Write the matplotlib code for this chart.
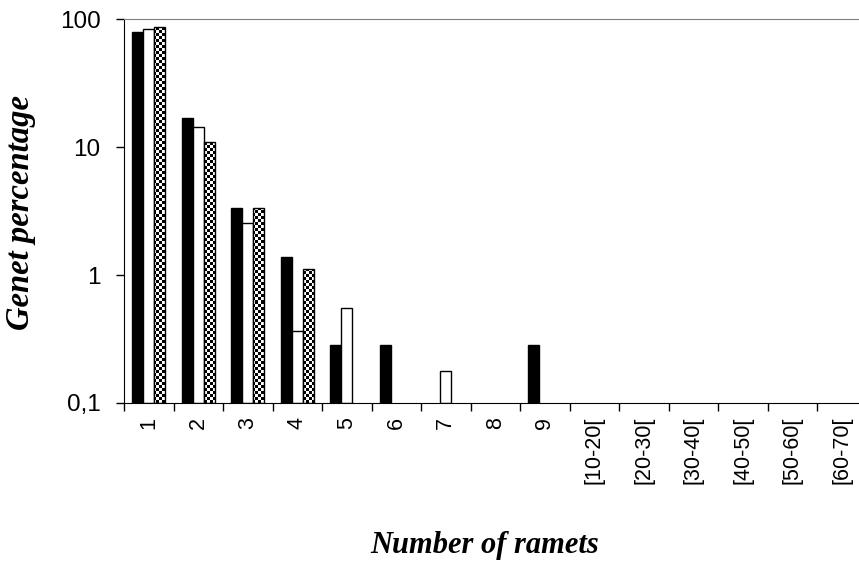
import numpy as np
import matplotlib
matplotlib.use("Agg")
import matplotlib.pyplot as plt
from matplotlib.transforms import IdentityTransform
from matplotlib.ticker import FixedLocator, NullFormatter

## Donnees
categories = ['1', '2', '3', '4', '5', '6', '7', '8', '9',
              '[10-20[', '[20-30[', '[30-40[', '[40-50[', '[50-60[', '[60-70[']
noir = [79, 16.9, 3.34, 1.38, 0.284, 0.284, 0, 0, 0.284, 0, 0, 0, 0, 0, 0]
blanc = [83.5, 14.3, 2.55, 0.365, 0.552, 0, 0.178, 0, 0, 0, 0, 0, 0, 0, 0]
damier = [86.6, 10.9, 3.34, 1.11, 0, 0, 0, 0, 0, 0, 0, 0, 0, 0, 0]
yticks = [0.1, 1, 10, 100]
ylabels = ['0,1', '1', '10', '100']
base = 0.1  # bas de l'axe log

W, H = 859, 565
fig = plt.figure(figsize=(W/100, H/100), dpi=100)
ax = fig.add_axes([124/W, 1-403/H, 1-124/W, 384/H])
ax.set_yscale('log')

x = np.arange(len(categories))
larg = 0.222


def non_nuls(vals, dx):
    v = np.array(vals, dtype=float)
    m = v > 0
    return x[m] + dx, v[m]


xn, vn = non_nuls(noir, -larg)
ax.bar(xn, vn - base, bottom=base, width=larg, color='black', edgecolor='black', linewidth=1, zorder=2)
xb, vb = non_nuls(blanc, 0)
ax.bar(xb, vb - base, bottom=base, width=larg, color='white', edgecolor='black', linewidth=1, zorder=2)

# damier : image en pixels coupee par chaque barre
xd, vd = non_nuls(damier, larg)
barres = ax.bar(xd, vd - base, bottom=base, width=larg, facecolor='none', edgecolor='black', linewidth=1, zorder=3)
ii, jj = np.indices((H, W))
motif = ((ii // 3 + jj // 3) % 2).astype(float)
for b in barres:
    im = ax.imshow(motif, cmap='gray', vmin=0, vmax=1, origin='lower',
                   extent=(0, W, 0, H), transform=IdentityTransform(),
                   interpolation='nearest', zorder=2.5, aspect='auto')
    im.set_clip_path(b)

ax.set_xlim(-0.5, -0.5 + 735/49.5)
ax.set_ylim(0.1, 100)

ax.yaxis.set_major_locator(FixedLocator(yticks))
ax.set_yticklabels(ylabels)
ax.yaxis.set_minor_locator(FixedLocator([]))
ax.set_xticks(x)
ax.set_xticklabels(categories, rotation=90)
ax.xaxis.set_minor_locator(FixedLocator(np.arange(-0.5, len(categories), 1.0)))
ax.xaxis.set_minor_formatter(NullFormatter())
ax.tick_params(axis='x', which='major', length=0, pad=10)
ax.tick_params(axis='x', which='minor', length=6, width=1, color='black')
ax.tick_params(axis='y', which='major', length=6, width=1, pad=11)
for lab in ax.get_xticklabels():
    lab.set_family('Liberation Sans')
    lab.set_fontsize(15.5)
for lab in ax.get_yticklabels():
    lab.set_family('Liberation Sans')
    lab.set_fontsize(17.5)

ax.spines['right'].set_visible(False)
ax.spines['top'].set_color('#808080')
ax.spines['left'].set_color('black')
ax.spines['bottom'].set_color('black')

fig.text(21/W, 1-213/H, 'Genet percentage', rotation=90, ha='center', va='center',
         family='Liberation Serif', weight='bold', style='italic', fontsize=23.5)
fig.text(485/W, 1-545/H, 'Number of ramets', ha='center', va='center',
         family='Liberation Serif', weight='bold', style='italic', fontsize=22)

fig.savefig('out.png', dpi=100)
